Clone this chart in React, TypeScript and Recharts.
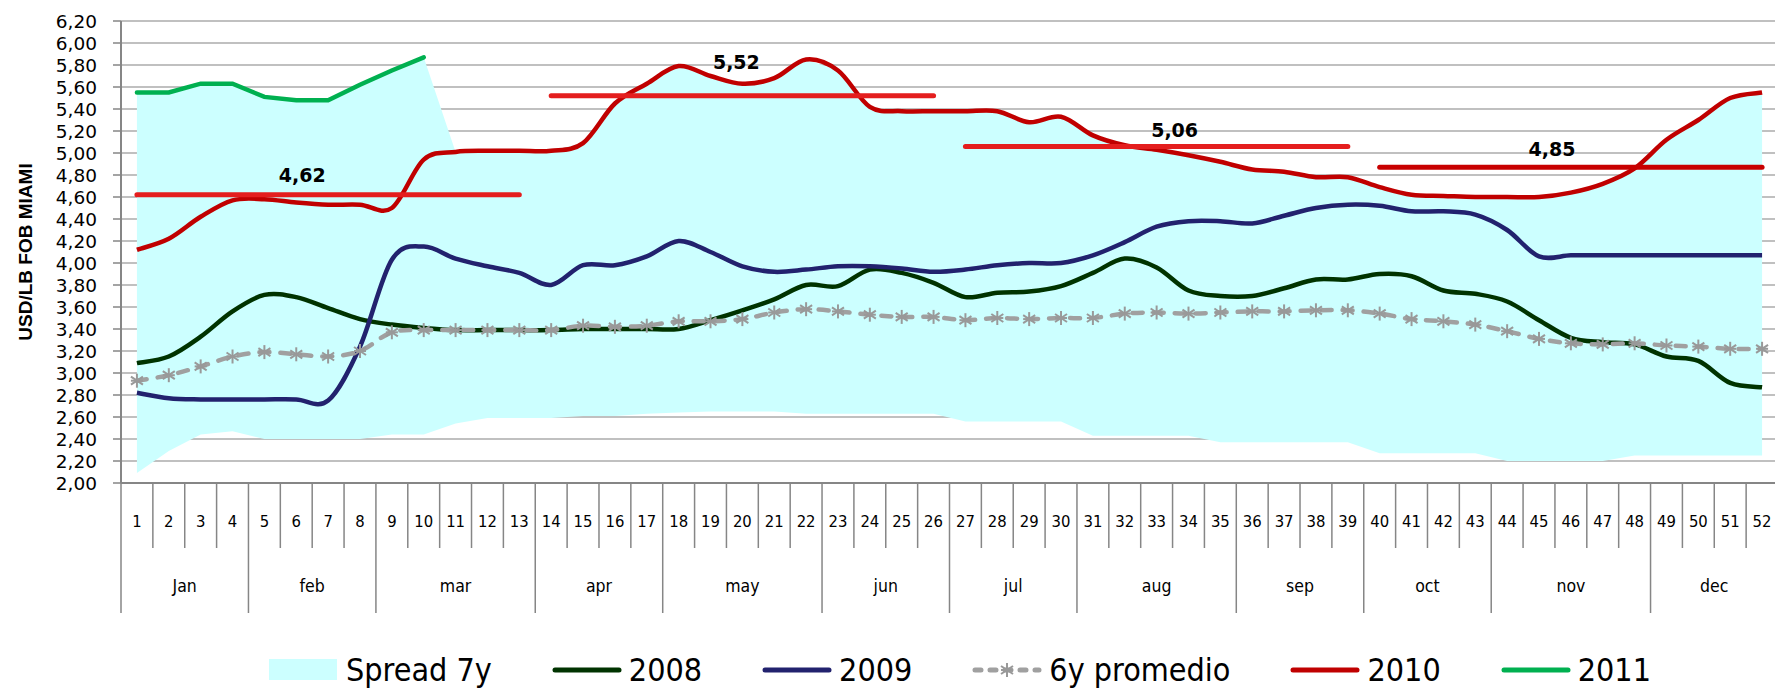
import React from "react";
import { ComposedChart, Area, Line, XAxis, YAxis, CartesianGrid, Legend } from "recharts";

const weeks = [
  1, 2, 3, 4, 5, 6, 7, 8, 9, 10, 11, 12, 13, 14, 15, 16, 17, 18, 19, 20, 21, 22, 23, 24, 25, 26,
  27, 28, 29, 30, 31, 32, 33, 34, 35, 36, 37, 38, 39, 40, 41, 42, 43, 44, 45, 46, 47, 48, 49, 50, 51, 52,
];
const months = ["Jan", "feb", "mar", "apr", "may", "jun", "jul", "aug", "sep", "oct", "nov", "dec"];
const monthWeeks = [4, 4, 5, 4, 5, 4, 4, 5, 4, 4, 5, 4];

const yTicks = [2, 2.2, 2.4, 2.6, 2.8, 3, 3.2, 3.4, 3.6, 3.8, 4, 4.2, 4.4, 4.6, 4.8, 5, 5.2, 5.4, 5.6, 5.8, 6, 6.2];

const spreadLow = [
  2.09, 2.29, 2.44, 2.47, 2.4, 2.4, 2.4, 2.4, 2.44, 2.44, 2.54, 2.59, 2.59, 2.59, 2.61, 2.61, 2.63, 2.64, 2.65, 2.65,
  2.65, 2.63, 2.63, 2.63, 2.63, 2.63, 2.56, 2.56, 2.56, 2.56, 2.43, 2.43, 2.43, 2.43, 2.37, 2.37, 2.37, 2.37, 2.37, 2.27,
  2.27, 2.27, 2.27, 2.2, 2.2, 2.2, 2.2, 2.25, 2.25, 2.25, 2.25, 2.25,
];
const spreadHigh = [
  5.55, 5.55, 5.63, 5.63, 5.51, 5.48, 5.48, 5.62, 5.75, 5.87, 5.01, 5.02, 5.02, 5.02, 5.09, 5.45, 5.63, 5.79, 5.7, 5.63,
  5.68, 5.85, 5.75, 5.42, 5.38, 5.38, 5.38, 5.38, 5.28, 5.33, 5.16, 5.07, 5.03, 4.98, 4.92, 4.85, 4.83, 4.78, 4.78, 4.69,
  4.62, 4.61, 4.6, 4.6, 4.6, 4.64, 4.72, 4.86, 5.12, 5.3, 5.5, 5.55,
];
const y2008 = [
  3.09, 3.15, 3.33, 3.56, 3.71, 3.69, 3.59, 3.49, 3.44, 3.41, 3.39, 3.39, 3.39, 3.39, 3.4, 3.4, 3.4, 3.4, 3.48, 3.57,
  3.67, 3.8, 3.79, 3.94, 3.91, 3.82, 3.69, 3.73, 3.74, 3.79, 3.91, 4.04, 3.96, 3.75, 3.7, 3.7, 3.77, 3.85, 3.85, 3.9,
  3.88, 3.75, 3.72, 3.65, 3.48, 3.32, 3.28, 3.26, 3.15, 3.11, 2.91, 2.87,
];
const y2009 = [
  2.82, 2.77, 2.76, 2.76, 2.76, 2.76, 2.75, 3.24, 4.03, 4.15, 4.04, 3.97, 3.91, 3.8, 3.98, 3.98, 4.06, 4.2, 4.1, 3.97,
  3.92, 3.94, 3.97, 3.97, 3.95, 3.92, 3.94, 3.98, 4.0, 4.0, 4.07, 4.19, 4.33, 4.38, 4.38, 4.36, 4.43, 4.5, 4.53, 4.52,
  4.47, 4.47, 4.44, 4.3, 4.06, 4.07, 4.07, 4.07, 4.07, 4.07, 4.07, 4.07,
];
const avg6y = [
  2.93, 2.98, 3.06, 3.15, 3.19, 3.17, 3.15, 3.2, 3.37, 3.39, 3.39, 3.39, 3.39, 3.39, 3.43, 3.42, 3.43, 3.47, 3.47, 3.49,
  3.55, 3.58, 3.56, 3.53, 3.51, 3.51, 3.48, 3.5, 3.49, 3.5, 3.5, 3.54, 3.55, 3.54, 3.55, 3.56, 3.56, 3.57, 3.57, 3.54,
  3.49, 3.47, 3.44, 3.38, 3.31, 3.27, 3.26, 3.27, 3.25, 3.24, 3.22, 3.22,
];
const y2010 = [
  4.12, 4.22, 4.42, 4.57, 4.58, 4.55, 4.53, 4.53, 4.5, 4.94, 5.01, 5.02, 5.02, 5.02, 5.09, 5.45, 5.63, 5.79, 5.7, 5.63,
  5.68, 5.85, 5.75, 5.42, 5.38, 5.38, 5.38, 5.38, 5.28, 5.33, 5.16, 5.07, 5.03, 4.98, 4.92, 4.85, 4.83, 4.78, 4.78, 4.69,
  4.62, 4.61, 4.6, 4.6, 4.6, 4.64, 4.72, 4.86, 5.12, 5.3, 5.5, 5.55,
];
const y2011 = [5.55, 5.55, 5.63, 5.63, 5.51, 5.48, 5.48, 5.62, 5.75, 5.87];

// period averages of 2010 (red bars)
const segStart = [1, 14, 27, 40];
const segEnd = [13, 26, 39, 52];
const segLevel = [4.62, 5.52, 5.06, 4.87];
const segText = ["4,62", "5,52", "5,06", "4,85"];
const segLabelWeek = [6, 20, 33, 45];
const segLabelDx = [6, -6, 18, 13];
const segLabelDy = [20, 34, 16, 18];
const segColor = ["#e41e1e", "#e41e1e", "#e41e1e", "#c80000"];

const data = weeks.map((w, i) => {
  const row: any = {
    week: w,
    spread: [spreadLow[i], spreadHigh[i]],
    y2008: y2008[i],
    y2009: y2009[i],
    avg6y: avg6y[i],
    y2010: y2010[i],
    y2011: i < y2011.length ? y2011[i] : null,
  };
  segLevel.forEach((lv, k) => {
    row["seg" + k] = w >= segStart[k] && w <= segEnd[k] ? lv : null;
  });
  return row;
});

const CHART_W = 1790;
const CHART_H = 689;
const Y_W = 121;
const M_TOP = 21;
const M_RIGHT = 12;
const LEGEND_H = 50;
const XAXIS_H = 156;
const PLOT_BOTTOM = CHART_H - LEGEND_H - XAXIS_H;
const BAND = (CHART_W - M_RIGHT - Y_W) / weeks.length;

const NARROW = "'DejaVu Sans Condensed', 'DejaVu Sans', sans-serif";
const AXIS_GREY = "#868686";

// Excel-like smoothed line (Catmull-Rom style bezier)
function excelCurve(context: any) {
  let pts: number[][] = [];
  return {
    areaStart() {},
    areaEnd() {},
    lineStart() {
      pts = [];
    },
    point(x: number, y: number) {
      pts.push([x, y]);
    },
    lineEnd() {
      if (!pts.length) return;
      context.moveTo(pts[0][0], pts[0][1]);
      if (pts.length === 1) context.lineTo(pts[0][0], pts[0][1]);
      for (let i = 0; i < pts.length - 1; i++) {
        const p0 = pts[Math.max(0, i - 1)];
        const p1 = pts[i];
        const p2 = pts[i + 1];
        const p3 = pts[Math.min(pts.length - 1, i + 2)];
        context.bezierCurveTo(
          p1[0] + (p2[0] - p0[0]) / 6,
          p1[1] + (p2[1] - p0[1]) / 6,
          p2[0] - (p3[0] - p1[0]) / 6,
          p2[1] - (p3[1] - p1[1]) / 6,
          p2[0],
          p2[1]
        );
      }
    },
  };
}

function WeekTick(props: any) {
  const { payload, index } = props;
  const x = payload.coordinate;
  const left = x - BAND / 2;
  let acc = 0;
  let monthIdx = -1;
  monthWeeks.forEach((n, m) => {
    if (acc === index) monthIdx = m;
    acc += n;
  });
  const isStart = monthIdx >= 0;
  const isLast = index === weeks.length - 1;
  return (
    <g>
      <line x1={left} x2={left} y1={PLOT_BOTTOM} y2={PLOT_BOTTOM + (isStart ? 130 : 65)} stroke={AXIS_GREY} strokeWidth={1.5} />
      {isLast && (
        <line x1={x + BAND / 2} x2={x + BAND / 2} y1={PLOT_BOTTOM} y2={PLOT_BOTTOM + 130} stroke={AXIS_GREY} strokeWidth={1.5} />
      )}
      <text x={x} y={PLOT_BOTTOM + 38} textAnchor="middle" dominantBaseline="central" fontFamily={NARROW} fontSize={16.5} fill="#000">
        {payload.value}
      </text>
      {isStart && (
        <text
          x={left + (monthWeeks[monthIdx] * BAND) / 2}
          y={PLOT_BOTTOM + 103}
          textAnchor="middle"
          dominantBaseline="central"
          fontFamily={NARROW}
          fontSize={17.5}
          fill="#000"
        >
          {months[monthIdx]}
        </text>
      )}
    </g>
  );
}

function YTitle(props: any) {
  const vb = props.viewBox || {};
  const cx = (vb.x ?? 0) + 25;
  const cy = (vb.y ?? M_TOP) + (vb.height ?? 0) / 2;
  return (
    <text
      x={cx}
      y={cy}
      transform={`rotate(-90, ${cx}, ${cy})`}
      textAnchor="middle"
      dominantBaseline="central"
      fontFamily="'Liberation Sans', Arial, sans-serif"
      fontWeight="bold"
      fontSize={19}
      fill="#000"
    >
      USD/LB FOB MIAMI
    </text>
  );
}

function Asterisk(props: any) {
  const { cx, cy } = props;
  if (cx == null || cy == null) return <g />;
  return (
    <g stroke="#999999" strokeWidth={2}>
      <line x1={cx} y1={cy - 7} x2={cx} y2={cy + 7} />
      <line x1={cx - 6} y1={cy - 4} x2={cx + 6} y2={cy + 4} />
      <line x1={cx - 6} y1={cy + 4} x2={cx + 6} y2={cy - 4} />
      <line x1={cx - 6} y1={cy} x2={cx + 6} y2={cy} />
    </g>
  );
}

const segDot = (k: number) => (p: any) => {
  if (p.index !== segLabelWeek[k] - 1 || p.cy == null) return <g key={p.key} />;
  return (
    <text
      key={p.key}
      x={p.cx + segLabelDx[k]}
      y={p.cy - segLabelDy[k]}
      textAnchor="middle"
      dominantBaseline="central"
      fontFamily="'DejaVu Sans', sans-serif"
      fontWeight="bold"
      fontSize={19}
      fill="#000"
    >
      {segText[k]}
    </text>
  );
};

const legendItems = [
  { name: "Spread 7y", kind: "area", color: "#ccffff" },
  { name: "2008", kind: "line", color: "#003300" },
  { name: "2009", kind: "line", color: "#22226e" },
  { name: "6y promedio", kind: "dash", color: "#a0a0a0" },
  { name: "2010", kind: "line", color: "#c00000" },
  { name: "2011", kind: "line", color: "#00b050" },
];

function LegendBox() {
  return (
    <div
      style={{
        height: LEGEND_H,
        boxSizing: "border-box",
        paddingTop: 12,
        paddingLeft: 269,
        display: "flex",
        alignItems: "center",
        gap: 60,
        fontFamily: NARROW,
        fontSize: 32,
        lineHeight: "38px",
        color: "#000",
      }}
    >
      {legendItems.map((it) => (
        <div key={it.name} style={{ display: "flex", alignItems: "center", gap: 7 }}>
          <svg width={70} height={34} style={{ display: "block" }}>
            {it.kind === "area" && <rect x={0} y={6} width={68} height={21} fill={it.color} />}
            {it.kind === "line" && (
              <line x1={3} x2={67} y1={17} y2={17} stroke={it.color} strokeWidth={5} strokeLinecap="round" />
            )}
            {it.kind === "dash" && (
              <g>
                <line x1={3} x2={67} y1={17} y2={17} stroke={it.color} strokeWidth={5} strokeLinecap="round" strokeDasharray="6 9" />
                <Asterisk cx={35} cy={17} />
              </g>
            )}
          </svg>
          <span>{it.name}</span>
        </div>
      ))}
    </div>
  );
}

export default function App() {
  return (
    <div style={{ position: "absolute", left: 0, top: 0, width: 1775, height: 689, overflow: "hidden", background: "#fff" }}>
      <ComposedChart width={CHART_W} height={CHART_H} data={data} margin={{ top: M_TOP, right: M_RIGHT, left: 0, bottom: 0 }}>
        <CartesianGrid vertical={false} stroke="#c0c0c0" strokeWidth={2} />
        <XAxis
          dataKey="week"
          interval={0}
          height={XAXIS_H}
          padding={{ left: BAND / 2, right: BAND / 2 }}
          tickLine={false}
          tick={<WeekTick />}
          axisLine={{ stroke: AXIS_GREY, strokeWidth: 2 }}
        />
        <YAxis
          domain={[2, 6.2]}
          ticks={yTicks}
          interval={0}
          width={Y_W}
          tickSize={8}
          tickMargin={16}
          tickFormatter={(v: number) => v.toFixed(2).replace(".", ",")}
          tick={{ fill: "#000", fontSize: 18.5, fontFamily: "'DejaVu Sans', sans-serif" }}
          tickLine={{ stroke: AXIS_GREY, strokeWidth: 1.5 }}
          axisLine={{ stroke: AXIS_GREY, strokeWidth: 2 }}
          label={<YTitle />}
        />
        <Legend verticalAlign="bottom" content={() => <LegendBox />} wrapperStyle={{ left: 0, width: CHART_W }} />
        <Area dataKey="spread" type="linear" fill="#ccffff" fillOpacity={1} stroke="none" isAnimationActive={false} activeDot={false} />
        <Line dataKey="y2008" type={excelCurve as any} stroke="#003300" strokeWidth={4.5} dot={false} activeDot={false} isAnimationActive={false} />
        <Line dataKey="y2009" type={excelCurve as any} stroke="#22226e" strokeWidth={4.5} dot={false} activeDot={false} isAnimationActive={false} />
        <Line
          dataKey="avg6y"
          type={excelCurve as any}
          stroke="#a0a0a0"
          strokeWidth={4.5}
          strokeDasharray="10 11"
          strokeLinecap="round"
          dot={<Asterisk />}
          activeDot={false}
          isAnimationActive={false}
        />
        <Line dataKey="y2010" type={excelCurve as any} stroke="#c00000" strokeWidth={4.5} dot={false} activeDot={false} isAnimationActive={false} />
        <Line dataKey="y2011" type="linear" stroke="#00b050" strokeWidth={4.5} strokeLinecap="round" dot={false} activeDot={false} isAnimationActive={false} />
        {segLevel.map((_, k) => (
          <Line
            key={"seg" + k}
            dataKey={"seg" + k}
            type="linear"
            stroke={segColor[k]}
            strokeWidth={5}
            strokeLinecap="round"
            dot={segDot(k)}
            activeDot={false}
            isAnimationActive={false}
          />
        ))}
      </ComposedChart>
    </div>
  );
}
